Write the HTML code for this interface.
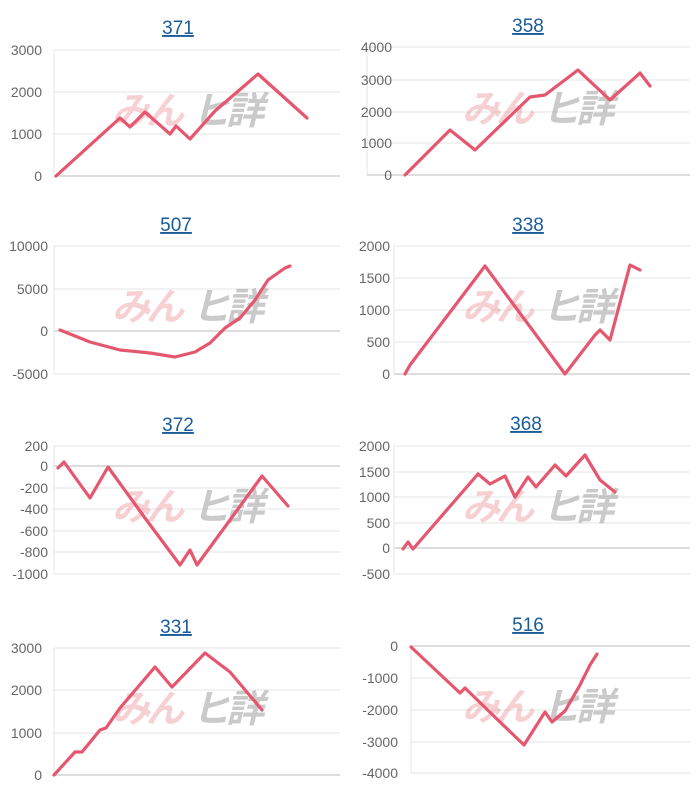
<!DOCTYPE html>
<html><head><meta charset="utf-8"><style>
body{margin:0;background:#fff;width:700px;height:800px;overflow:hidden}
svg{display:block}
.t{font:19px "Liberation Sans",sans-serif;fill:#1a5c99;text-decoration:underline}
.l{font:14px "Liberation Sans",sans-serif;fill:#666}
.g{stroke:#e6e6e6;stroke-width:1}
.z{stroke:#bbb;stroke-width:1}
.p{fill:none;stroke:#e5566f;stroke-width:3.2;stroke-linejoin:round;stroke-linecap:round}
.w1{font:italic bold 38px "Liberation Sans","Noto Sans CJK JP",sans-serif;fill:rgba(230,120,130,0.35);letter-spacing:-4px}
.w2{font:italic bold 38px "Liberation Sans","Noto Sans CJK JP",sans-serif;fill:rgba(150,150,150,0.5);letter-spacing:-4px}
</style></head><body>
<svg width="700" height="800" xmlns="http://www.w3.org/2000/svg">
<!-- Panel 1 -->
<text class="t" x="178" y="34" text-anchor="middle">371</text>
<line class="g" x1="54" x2="340" y1="50" y2="50"/><line class="g" x1="54" x2="340" y1="92" y2="92"/><line class="g" x1="54" x2="340" y1="134" y2="134"/>
<line class="z" x1="54" x2="340" y1="176" y2="176"/><line class="g" x1="54" x2="54" y1="50" y2="176"/>
<g class="l" text-anchor="end"><text x="42" y="55">3000</text><text x="42" y="97">2000</text><text x="42" y="139">1000</text><text x="42" y="181">0</text></g>
<text class="w1" x="112" y="124">みん</text><text class="w2" x="192" y="124">ヒ詳</text>
<polyline class="p" points="56,176 120,118 130,127 145,112 170,134 176,126 190,139 215,111 258,74 307,118"/>
<!-- Panel 2 -->
<text class="t" x="528" y="32" text-anchor="middle">358</text>
<line class="g" x1="367" x2="690" y1="47" y2="47"/><line class="g" x1="367" x2="690" y1="80" y2="80"/><line class="g" x1="367" x2="690" y1="112" y2="112"/><line class="g" x1="367" x2="690" y1="143" y2="143"/>
<line class="z" x1="367" x2="690" y1="175" y2="175"/><line class="g" x1="367" x2="367" y1="47" y2="175"/>
<g class="l" text-anchor="end"><text x="392" y="52">4000</text><text x="392" y="85">3000</text><text x="392" y="117">2000</text><text x="392" y="148">1000</text><text x="392" y="180">0</text></g>
<text class="w1" x="462" y="122">みん</text><text class="w2" x="542" y="122">ヒ詳</text>
<polyline class="p" points="405,175 450,130 475,150 530,97 545,95 578,70 610,100 640,73 650,86"/>
<!-- Panel 3 -->
<text class="t" x="176" y="231" text-anchor="middle">507</text>
<line class="g" x1="54" x2="340" y1="246" y2="246"/><line class="g" x1="54" x2="340" y1="289" y2="289"/><line class="g" x1="54" x2="340" y1="374" y2="374"/>
<line class="z" x1="54" x2="340" y1="331" y2="331"/><line class="g" x1="54" x2="54" y1="246" y2="374"/>
<g class="l" text-anchor="end"><text x="48" y="251">10000</text><text x="48" y="294">5000</text><text x="48" y="336">0</text><text x="48" y="379">-5000</text></g>
<text class="w1" x="112" y="320">みん</text><text class="w2" x="192" y="320">ヒ詳</text>
<polyline class="p" points="60,330 90,342 120,350 150,353 175,357 195,352 210,343 225,328 240,318 255,300 268,280 285,268 290,266"/>
<!-- Panel 4 -->
<text class="t" x="528" y="231" text-anchor="middle">338</text>
<line class="g" x1="394" x2="690" y1="246" y2="246"/><line class="g" x1="394" x2="690" y1="278" y2="278"/><line class="g" x1="394" x2="690" y1="310" y2="310"/><line class="g" x1="394" x2="690" y1="342" y2="342"/>
<line class="z" x1="394" x2="690" y1="374" y2="374"/><line class="g" x1="394" x2="394" y1="246" y2="374"/>
<g class="l" text-anchor="end"><text x="390" y="251">2000</text><text x="390" y="283">1500</text><text x="390" y="315">1000</text><text x="390" y="347">500</text><text x="390" y="379">0</text></g>
<text class="w1" x="462" y="320">みん</text><text class="w2" x="542" y="320">ヒ詳</text>
<polyline class="p" points="405,374 410,365 485,266 565,374 595,335 600,330 610,340 630,265 640,270"/>
<!-- Panel 5 -->
<text class="t" x="178" y="431" text-anchor="middle">372</text>
<g><line class="g" x1="54" x2="340" y1="446" y2="446"/><line class="g" x1="54" x2="340" y1="488" y2="488"/><line class="g" x1="54" x2="340" y1="509" y2="509"/><line class="g" x1="54" x2="340" y1="531" y2="531"/><line class="g" x1="54" x2="340" y1="552" y2="552"/><line class="g" x1="54" x2="340" y1="574" y2="574"/></g>
<line class="z" x1="54" x2="340" y1="466" y2="466"/><line class="g" x1="54" x2="54" y1="446" y2="574"/>
<g class="l" text-anchor="end"><text x="48" y="451">200</text><text x="48" y="471">0</text><text x="48" y="493">-200</text><text x="48" y="514">-400</text><text x="48" y="536">-600</text><text x="48" y="557">-800</text><text x="48" y="579">-1000</text></g>
<text class="w1" x="112" y="520">みん</text><text class="w2" x="192" y="520">ヒ詳</text>
<polyline class="p" points="58,468 64,462 90,498 108,467 145,518 180,565 190,550 197,565 230,520 262,476 288,506"/>
<!-- Panel 6 -->
<text class="t" x="526" y="430" text-anchor="middle">368</text>
<g><line class="g" x1="394" x2="690" y1="446" y2="446"/><line class="g" x1="394" x2="690" y1="472" y2="472"/><line class="g" x1="394" x2="690" y1="497" y2="497"/><line class="g" x1="394" x2="690" y1="523" y2="523"/><line class="g" x1="394" x2="690" y1="574" y2="574"/></g>
<line class="z" x1="394" x2="690" y1="548" y2="548"/><line class="g" x1="394" x2="394" y1="446" y2="574"/>
<g class="l" text-anchor="end"><text x="390" y="451">2000</text><text x="390" y="477">1500</text><text x="390" y="502">1000</text><text x="390" y="528">500</text><text x="390" y="553">0</text><text x="390" y="579">-500</text></g>
<text class="w1" x="462" y="520">みん</text><text class="w2" x="542" y="520">ヒ詳</text>
<polyline class="p" points="403,549 408,542 413,549 478,474 490,484 505,476 515,497 528,477 536,487 555,465 566,476 585,455 600,480 615,492"/>
<!-- Panel 7 -->
<text class="t" x="176" y="633" text-anchor="middle">331</text>
<line class="g" x1="54" x2="340" y1="648" y2="648"/><line class="g" x1="54" x2="340" y1="690" y2="690"/><line class="g" x1="54" x2="340" y1="733" y2="733"/>
<line class="z" x1="54" x2="340" y1="775" y2="775"/><line class="g" x1="54" x2="54" y1="648" y2="775"/>
<g class="l" text-anchor="end"><text x="42" y="653">3000</text><text x="42" y="695">2000</text><text x="42" y="738">1000</text><text x="42" y="780">0</text></g>
<text class="w1" x="112" y="722">みん</text><text class="w2" x="192" y="722">ヒ詳</text>
<polyline class="p" points="54,775 75,752 82,752 100,730 106,728 120,708 155,667 172,687 205,653 230,672 262,710"/>
<!-- Panel 8 -->
<text class="t" x="528" y="631" text-anchor="middle">516</text>
<line class="g" x1="411" x2="690" y1="678" y2="678"/><line class="g" x1="411" x2="690" y1="710" y2="710"/><line class="g" x1="411" x2="690" y1="742" y2="742"/><line class="g" x1="411" x2="690" y1="773" y2="773"/>
<line class="z" x1="411" x2="690" y1="646" y2="646"/><line class="g" x1="411" x2="411" y1="646" y2="773"/>
<g class="l" text-anchor="end"><text x="398" y="651">0</text><text x="398" y="683">-1000</text><text x="398" y="715">-2000</text><text x="398" y="747">-3000</text><text x="398" y="778">-4000</text></g>
<text class="w1" x="462" y="720">みん</text><text class="w2" x="542" y="720">ヒ詳</text>
<polyline class="p" points="411,647 460,693 465,688 500,722 524,745 545,712 552,722 565,711 580,685 590,665 597,654"/>
</svg>
</body></html>
